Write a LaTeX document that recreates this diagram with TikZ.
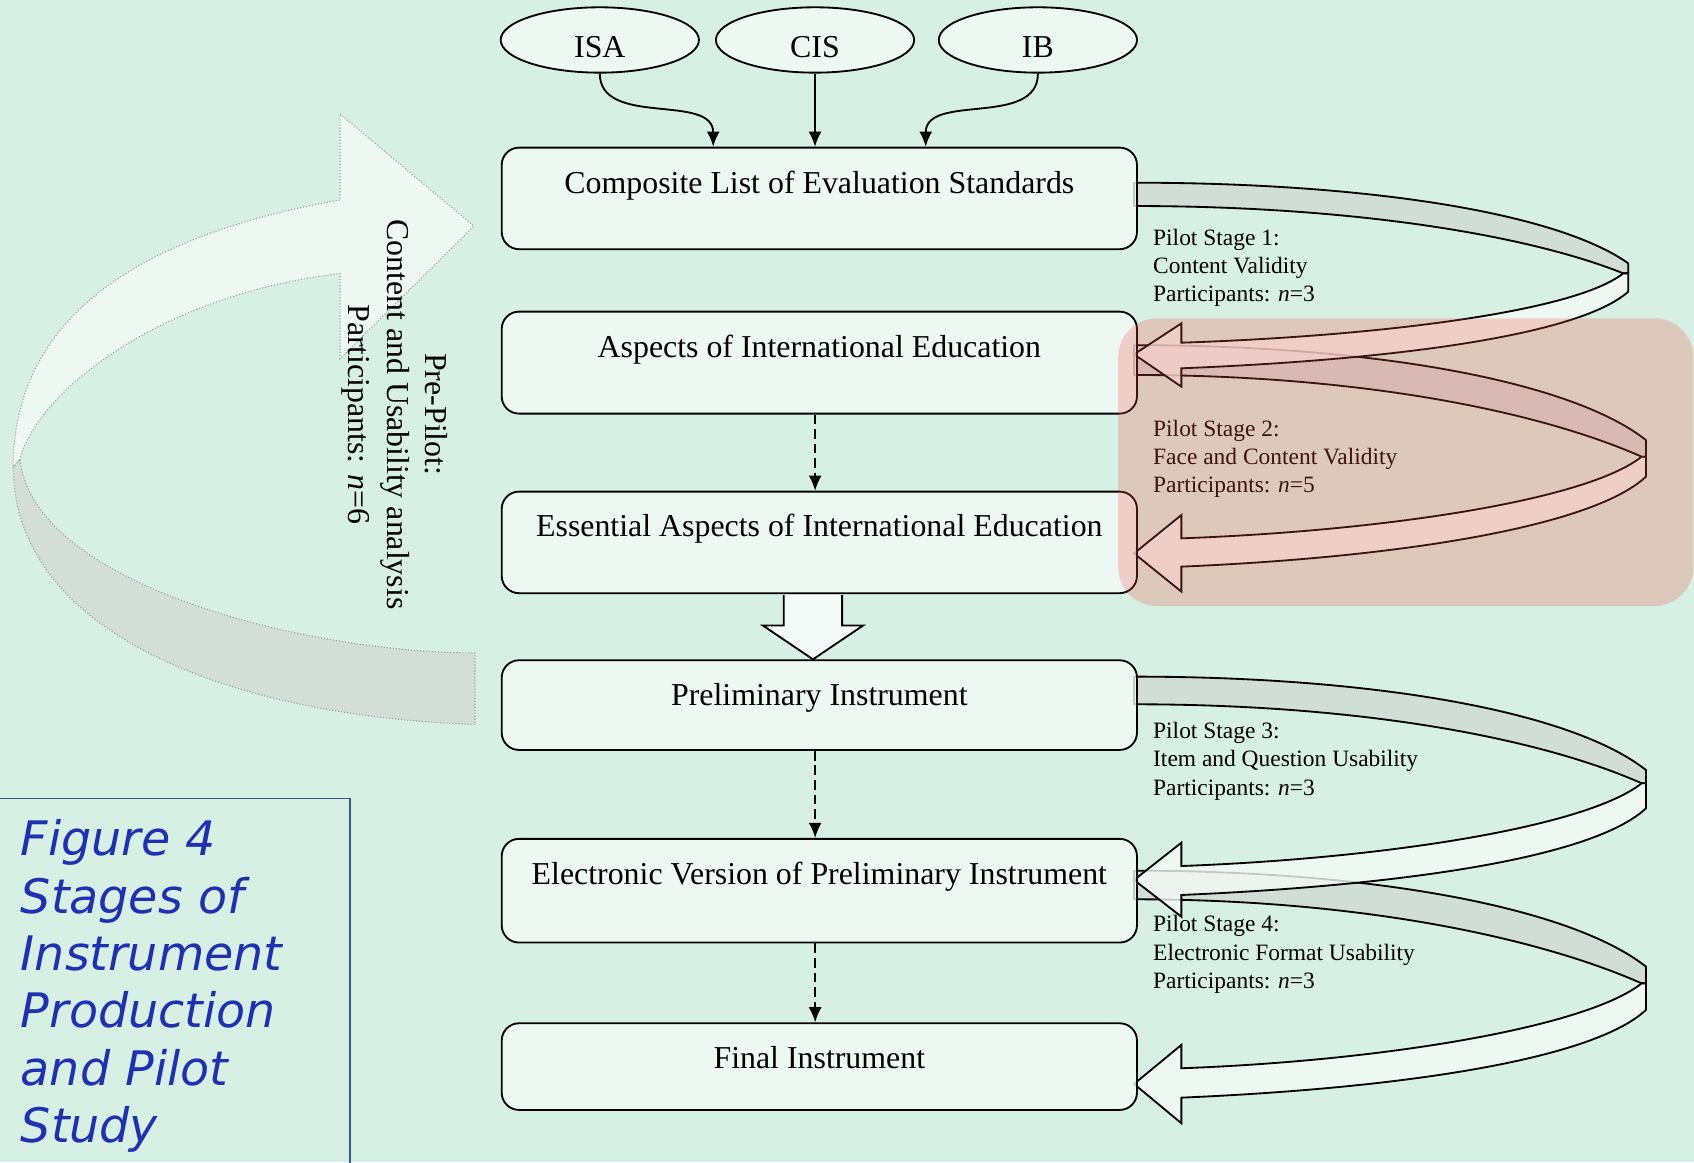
\documentclass[tikz,border=0pt]{standalone}
\usepackage{fontspec}
\setmainfont{Liberation Serif}
\newfontfamily\capfamily{DejaVu Sans}[ItalicFont={DejaVu Sans Oblique}]
\usetikzlibrary{arrows.meta,shapes.geometric,calc}

\definecolor{bgmint}{RGB}{214,241,227}
\definecolor{paper}{RGB}{244,250,247}
\definecolor{backside}{RGB}{208,216,212}
\definecolor{overlayred}{RGB}{242,81,74}
\definecolor{capblue}{RGB}{30,48,180}
\definecolor{capframe}{RGB}{55,90,140}
\definecolor{ghostlight}{RGB}{238,248,243}
\definecolor{ghostdark}{RGB}{211,222,216}
\definecolor{ghostline}{RGB}{150,156,153}

\newcommand\mainsz{\fontsize{29.5}{35.5}\selectfont}
\newcommand\labelsz{\fontsize{21.7}{26.3}\selectfont}
\newcommand\capsz{\fontsize{44}{53}\selectfont}

\begin{document}
\begin{tikzpicture}[x=1pt,y=-1pt,
  stagebox/.style={draw=black, line width=1.7pt, fill=paper, fill opacity=0.8, text opacity=1,
    rounded corners=16pt, minimum width=588pt, inner sep=0pt, text height=42pt, anchor=north, font=\mainsz},
  srcnode/.style={ellipse, draw=black, line width=1.7pt, fill=paper, fill opacity=0.8, text opacity=1,
    minimum width=183.5pt, minimum height=60.5pt, inner sep=0pt, text height=32pt, text depth=0pt, font=\mainsz},
  feed/.style={-{Latex[length=14pt,width=12pt]}, line width=1.7pt},
  dashfeed/.style={feed, dash pattern=on 9pt off 4.5pt},
  bandback/.style={fill=backside, fill opacity=0.8, draw=black, line width=1.7pt, line join=round},
  bandfront/.style={fill=paper, fill opacity=0.8, draw=black, line width=1.7pt, line join=miter},
  ghostlit/.style={fill=ghostlight, draw=ghostline, line width=1pt, dash pattern=on 1pt off 1.8pt},
  ghostdim/.style={ghostlit, fill=ghostdark},
  stagelabel/.style={anchor=base west, inner sep=0pt, font=\labelsz},
]
\useasboundingbox (0,0) rectangle (1568,1076);
\fill[bgmint] (0,0) rectangle (1568,1076);

% pre-pilot loop arrow on the left
\path[ghostlit] (314.7,105.5) -- (438.7,209.2) -- (314.7,332) -- (314.7,253.2)
   .. controls (144.7,273.2) and (33.5,365) .. (18.5,425) -- (12.3,432.5)
   .. controls (12.3,302.5) and (114.7,220) .. (314.7,185.1) -- cycle;
\path[ghostdim] (12.3,432.5) .. controls (12.3,580) and (200,662) .. (439.7,670.6)
   -- (439.7,604.4) .. controls (280,604) and (30,540) .. (18.5,425) -- cycle;
\node[font=\mainsz, align=center, rotate=-90, inner sep=0pt] (prepilot) at (365.5,383.5)
   {Pre-Pilot:\\Content and Usability analysis\\Participants: \textit{n}=6};

% pilot stage 2 ribbon
\path[bandback] (1049.7,319.5) .. controls +(220,0) and +(-70,-55) .. (1523.5,407.3)
   -- (1523.5,422.7) -- (1519.5,422.7) .. controls +(-95,-42) and +(210,0) .. (1049.7,347.1) -- cycle;
\path[bandfront] (1519.5,422.7) .. controls +(-50,40) and +(190,-7) .. (1093.5,498.3)
   -- (1093.5,476.7) -- (1049.7,512.2) -- (1093.5,547.6) -- (1093.5,524.5)
   .. controls +(210,-9) and +(-48,45) .. (1523.5,441.2) -- (1523.5,422.7) -- cycle;
% pilot stage 1 ribbon
\path[bandback] (1049.7,169.1) .. controls +(210,0) and +(-68,-48) .. (1507.1,243.7)
   -- (1507.1,253) -- (1502.5,253) .. controls +(-90,-36) and +(200,0) .. (1049.7,190.7) -- cycle;
\path[bandfront] (1502.5,253) .. controls +(-45,36) and +(180,-6) .. (1093.5,317.2)
   -- (1093.5,299.3) -- (1049.7,328) -- (1093.5,357.9) -- (1093.5,340.9)
   .. controls +(200,-8) and +(-45,40) .. (1507.1,270) -- (1507.1,253) -- cycle;
% pilot stage 4 ribbon
\path[bandback] (1049.7,805.9) .. controls +(220,0) and +(-70,-55) .. (1523.5,894.7)
   -- (1523.5,910.2) -- (1519.5,910.2) .. controls +(-95,-42) and +(210,0) .. (1049.7,832.4) -- cycle;
\path[bandfront] (1519.5,910.2) .. controls +(-50,40) and +(190,-7) .. (1093.5,988.8)
   -- (1093.5,967.2) -- (1049.7,1003.3) -- (1093.5,1039.7) -- (1093.5,1016)
   .. controls +(210,-9) and +(-48,45) .. (1523.5,934.8) -- (1523.5,910.2) -- cycle;
% pilot stage 3 ribbon
\path[bandback] (1049.7,626.3) .. controls +(220,0) and +(-70,-55) .. (1523.5,712.7)
   -- (1523.5,725) -- (1519.5,725) .. controls +(-95,-42) and +(210,0) .. (1049.7,651.9) -- cycle;
\path[bandfront] (1519.5,725) .. controls +(-50,40) and +(190,-7) .. (1093.5,801.6)
   -- (1093.5,780) -- (1049.7,814.5) -- (1093.5,848.5) -- (1093.5,828.4)
   .. controls +(210,-9) and +(-48,45) .. (1523.5,748.2) -- (1523.5,725) -- cycle;

% sources
\node[srcnode] (isa) at (555.2,37) {ISA};
\node[srcnode] (cis) at (754.4,37) {CIS};
\node[srcnode] (ib)  at (960.7,37) {IB};

% stages of the instrument
\node[stagebox, text depth=52pt]   (comp) at (758.4,135.8) {Composite List of Evaluation Standards};
\node[stagebox, text depth=52.4pt] (asp)  at (758.4,287.6) {Aspects of International Education};
\node[stagebox, text depth=52pt]   (ess)  at (758.4,454.2) {Essential Aspects of International Education};
\node[stagebox, text depth=41pt]   (pre)  at (758.4,610.3) {Preliminary Instrument};
\node[stagebox, text depth=54pt]   (ele)  at (758.4,775.6) {Electronic Version of Preliminary Instrument};
\node[stagebox, text depth=38.2pt] (fin)  at (758.4,946.3) {Final Instrument};

% source connectors
\draw[feed] (isa.south) .. controls +(0,50) and +(0,-50) .. ([xshift=196.6pt]comp.north west);
\draw[feed] (cis.south) -- (cis.south |- comp.north);
\draw[feed] (ib.south) .. controls +(0,50) and +(0,-50) .. ([xshift=393.3pt]comp.north west);

% stage connectors
\draw[dashfeed] ([xshift=-3.9pt]asp.south) -- ([xshift=-3.9pt]ess.north);
\draw[dashfeed] ([xshift=-3.9pt]pre.south) -- ([xshift=-3.9pt]ele.north);
\draw[dashfeed] ([xshift=-3.9pt]ele.south) -- ([xshift=-3.9pt]fin.north);
\coordinate (bt) at ([xshift=-5.9pt]ess.south);
\draw[line width=1.7pt, fill=paper, line join=miter]
   ($(bt)+(-27,0.9)$) -- ($(bt)+(-27,29)$) -- ($(bt)+(-46.5,29)$) -- (bt |- pre.north)
   -- ($(bt)+(46.5,29)$) -- ($(bt)+(27,29)$) -- ($(bt)+(27,0.9)$);

% pilot stage labels
\node[stagelabel] (lab1) at (1067.2,226.8)
   {\begin{tabular}[t]{@{}l@{}}Pilot Stage 1:\\Content Validity\\Participants: \textit{n}=3\end{tabular}};
\node[stagelabel] (lab2) at (1067.2,403.6)
   {\begin{tabular}[t]{@{}l@{}}Pilot Stage 2:\\Face and Content Validity\\Participants: \textit{n}=5\end{tabular}};
\node[stagelabel] (lab3) at (1067.2,683.4)
   {\begin{tabular}[t]{@{}l@{}}Pilot Stage 3:\\Item and Question Usability\\Participants: \textit{n}=3\end{tabular}};
\node[stagelabel] (lab4) at (1067.2,862.3)
   {\begin{tabular}[t]{@{}l@{}}Pilot Stage 4:\\Electronic Format Usability\\Participants: \textit{n}=3\end{tabular}};

% highlighted stage 2 region
\fill[overlayred, fill opacity=0.25, rounded corners=36pt] (1035,294.6) rectangle (1567.3,561);

% caption
\draw[capframe, line width=1.5pt] (-10,739) rectangle (324,1090);
\node[anchor=base west, inner sep=0pt, font=\capfamily\itshape\capsz, text=capblue] (caption) at (19.1,792.3)
   {\begin{tabular}[t]{@{}l@{}}Figure 4\\Stages of\\Instrument\\Production\\and Pilot\\Study\end{tabular}};
\end{tikzpicture}
\end{document}
